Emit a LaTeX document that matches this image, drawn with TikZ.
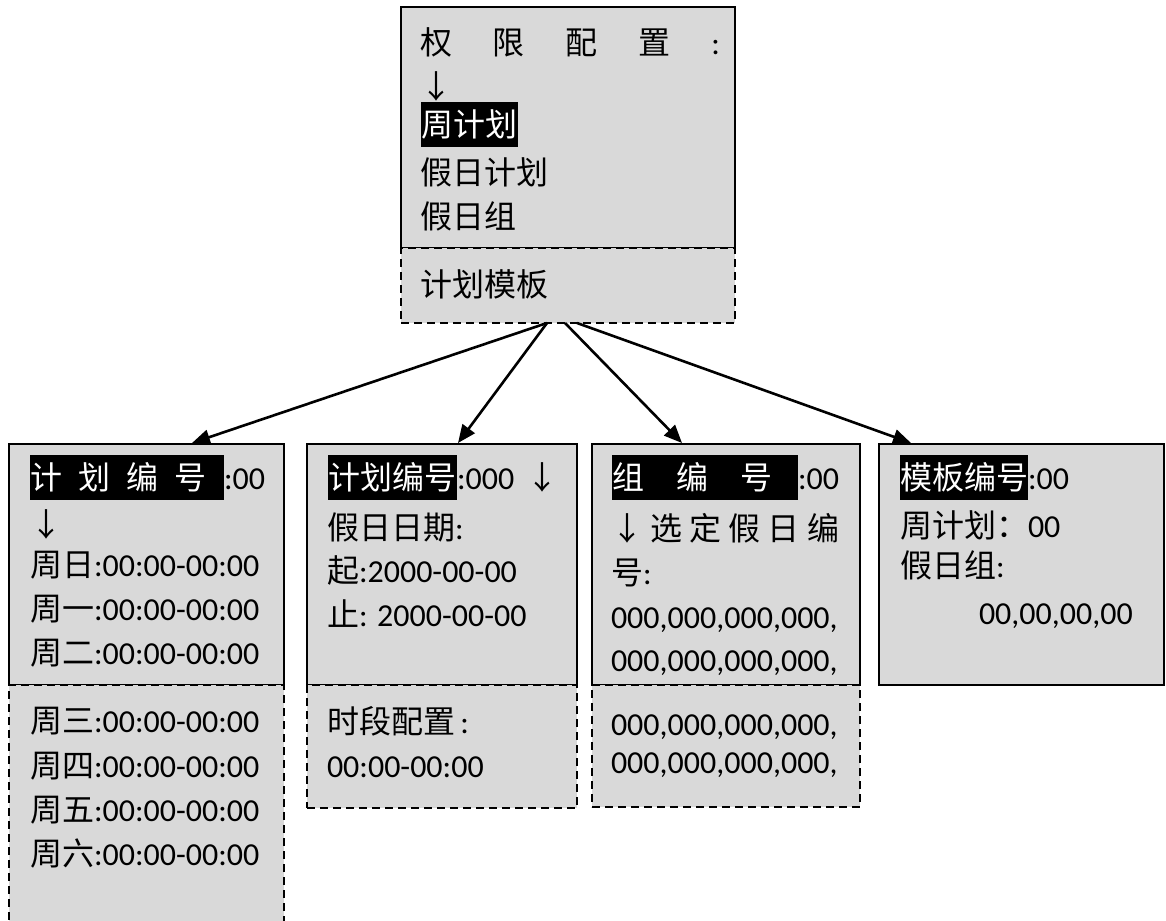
\documentclass[tikz,border=0pt]{standalone}
\usepackage{fontspec}
\setmainfont{Carlito}
\newfontfamily\cjkfont{Noto Sans CJK SC}
\newcommand\zh[1]{{\cjkfont #1}}
\usetikzlibrary{arrows.meta}
\definecolor{boxgray}{HTML}{D9D9D9}
\begin{document}
\begin{tikzpicture}[x=1pt,y=-1pt,
  solidbox/.style={draw=black, line width=2pt, fill=boxgray, inner sep=0pt, outer sep=0pt, anchor=north west},
  dashbox/.style={solidbox, dash pattern=on 8pt off 5pt},
  txt/.style={anchor=west, inner sep=0pt, outer sep=0pt, text height=28pt, text depth=4pt, font=\fontsize{32}{38}\selectfont},
  hl/.style={txt, fill=black, text=white, minimum height=45pt},
  conn/.style={line width=2.6pt, -{Triangle[length=18pt,width=15pt]}}]
\useasboundingbox (0,0) rectangle (1166,920);

% boxes
\node[solidbox, minimum width=334pt, minimum height=241pt] (top) at (401,7) {};
\node[dashbox, minimum width=334pt, minimum height=75pt] (tpl) at (401,248) {};
\node[solidbox, minimum width=275pt, minimum height=241pt] (b1) at (9,444) {};
\node[dashbox, minimum width=275pt, minimum height=250pt] (b1x) at (9,685) {};
\node[solidbox, minimum width=270pt, minimum height=241pt] (b2) at (307,444) {};
\node[dashbox, minimum width=270pt, minimum height=123pt] (b2x) at (307,685) {};
\node[solidbox, minimum width=268pt, minimum height=241pt] (b3) at (592,444) {};
\node[dashbox, minimum width=268pt, minimum height=122pt] (b3x) at (592,685) {};
\node[solidbox, minimum width=285pt, minimum height=241pt] (b4) at (879,444) {};

% top box text
\node[txt] (r1) at (420,43) {\makebox[300pt][s]{\zh{权}\hfill\zh{限}\hfill\zh{配}\hfill\zh{置}\hfill:}};
\node[txt] (r2) at (420,87) {\zh{↓}};
\node[hl] (r3) at (421,125) {\makebox[97pt][l]{\zh{周计划}}};
\node[txt] (r4) at (420,172) {\zh{假日计划}};
\node[txt] (r5) at (420,216) {\zh{假日组}};
\node[txt] (r6) at (420,284) {\zh{计划模板}};

% box 1
\node[hl] (a1) at (30,477) {\makebox[194pt][l]{\zh{计}\hspace{16pt}\zh{划}\hspace{16pt}\zh{编}\hspace{16pt}\zh{号}}};
\node[txt] (a1b) at (a1.east) {:00};
\node[txt] (a2) at (30,524) {\zh{↓}};
\node[txt] (a3) at (30,564) {\zh{周日}:00:00-00:00};
\node[txt] (a4) at (30,608) {\zh{周一}:00:00-00:00};
\node[txt] (a5) at (30,652) {\zh{周二}:00:00-00:00};
\node[txt] (a6) at (30,720) {\zh{周三}:00:00-00:00};
\node[txt] (a7) at (30,765) {\zh{周四}:00:00-00:00};
\node[txt] (a8) at (30,809) {\zh{周五}:00:00-00:00};
\node[txt] (a9) at (30,853) {\zh{周六}:00:00-00:00};

% box 2
\node[hl] (c1) at (328,477) {\makebox[129pt][l]{\zh{计划编号}}};
\node[txt] (c1b) at (c1.east) {:000\hspace{12pt}\zh{↓}};
\node[txt] (c2) at (327,527) {\zh{假日日期}:};
\node[txt] (c3) at (327,570) {\zh{起}:2000-00-00};
\node[txt] (c4) at (327,614) {\zh{止}: 2000-00-00};
\node[txt] (c5) at (327,721) {\zh{时段配置}\,:};
\node[txt] (c6) at (327,765) {00:00-00:00};

% box 3
\node[hl] (d1) at (612,477) {\makebox[186pt][l]{\zh{组}\hspace{32pt}\zh{编}\hspace{32pt}\zh{号}}};
\node[txt] (d1b) at (d1.east) {:00};
\node[txt] (d2) at (611,528) {\makebox[228pt][s]{\zh{↓}\hfill\zh{选}\hfill\zh{定}\hfill\zh{假}\hfill\zh{日}\hfill\zh{编}}};
\node[txt] (d3) at (611,572) {\zh{号}:};
\node[txt] (d4) at (611,616) {000,000,000,000,};
\node[txt] (d5) at (611,659) {000,000,000,000,};
\node[txt] (d6) at (611,723) {000,000,000,000,};
\node[txt] (d7) at (611,761) {000,000,000,000,};

% box 4
\node[hl] (f1) at (900,477) {\makebox[128pt][l]{\zh{模板编号}}};
\node[txt] (f1b) at (f1.east) {:00};
\node[txt] (f2) at (900,525) {\zh{周计划：}00};
\node[txt] (f3) at (900,565) {\zh{假日组}:};
\node[txt] (f4) at (979,612) {00,00,00,00};

% connectors
\coordinate (s12) at (547,323);
\coordinate (s3) at (565,323);
\coordinate (s4) at (577,323);
\coordinate (e1) at (192,443);
\coordinate (e2) at (458,443);
\coordinate (e3) at (682,443);
\coordinate (e4) at (911,443);
\draw[conn] (s12) -- (e1);
\draw[conn] (s12) -- (e2);
\draw[conn] (s3) -- (e3);
\draw[conn] (s4) -- (e4);
\end{tikzpicture}
\end{document}
